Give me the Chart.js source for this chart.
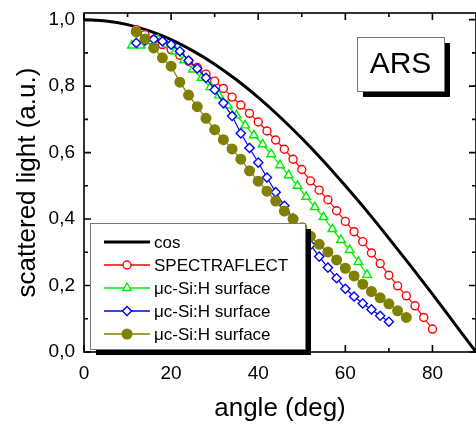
<!DOCTYPE html>
<html>
<head>
<meta charset="utf-8">
<script src="https://cdn.jsdelivr.net/npm/chart.js@4.4.0/dist/chart.umd.min.js"></script>
<style>
    html, body { margin: 0; padding: 0; background: #fff; }
    #wrap { width: 476px; height: 424px; }
</style>
</head>
<body>
<div id="wrap"><canvas id="arsChart" width="476" height="424"></canvas></div>
<script>
const FONT = "'Liberation Sans', Arial, Helvetica, sans-serif";

// --- axes ---
const xTicks = [0, 20, 40, 60, 80];
const xMinorTicks = [10, 30, 50, 70, 90];
const yTicks = [0, 0.2, 0.4, 0.6, 0.8, 1.0];
const yMinorTicks = [0.1, 0.3, 0.5, 0.7, 0.9];

const seriesNames = ['cos', 'SPECTRAFLECT', 'μc-Si:H surface', 'μc-Si:H surface', 'μc-Si:H surface'];

// --- cos reference curve ---
const cosAngles = [0, 5, 10, 15, 20, 25, 30, 35, 40, 45, 50, 55, 60, 65, 70, 75, 80, 85, 90];
const cosValues = [1.000, 0.996, 0.985, 0.966, 0.940, 0.906, 0.866, 0.819, 0.766, 0.707,
                   0.643, 0.574, 0.500, 0.423, 0.342, 0.259, 0.174, 0.087, 0.000];

// --- SPECTRAFLECT (red circles) ---
const redAngles = [12, 14, 16, 18, 20, 22, 24, 26, 28, 30, 32, 34, 36, 38, 40, 42, 44, 46,
                   48, 50, 52, 54, 56, 58, 60, 62, 64, 66, 68, 70, 72, 74, 76, 78, 80];
const redValues = [0.970, 0.955, 0.940, 0.925, 0.910, 0.893, 0.875, 0.856, 0.836, 0.815,
                   0.793, 0.767, 0.743, 0.718, 0.692, 0.665, 0.638, 0.610, 0.580, 0.549,
                   0.515, 0.487, 0.458, 0.425, 0.393, 0.362, 0.332, 0.298, 0.266, 0.231,
                   0.199, 0.169, 0.139, 0.104, 0.069];

// --- uc-Si:H surface (green triangles) ---
const greenAngles = [11, 13, 15, 17, 19, 21, 23, 25, 27, 29, 31, 33, 35, 37, 39, 41, 43, 45,
                     47, 49, 51, 53, 55, 57, 59, 61, 63, 65];
const greenValues = [0.922, 0.922, 0.935, 0.940, 0.925, 0.905, 0.878, 0.850, 0.825, 0.797,
                     0.772, 0.742, 0.712, 0.682, 0.652, 0.625, 0.595, 0.562, 0.532, 0.500,
                     0.467, 0.436, 0.406, 0.370, 0.337, 0.307, 0.271, 0.232];

// --- uc-Si:H surface (blue diamonds) ---
const blueAngles = [12, 14, 16, 18, 20, 22, 24, 26, 28, 30, 32, 34, 36, 38, 40, 42, 44, 46,
                    48, 50, 52, 54, 56, 58, 60, 62, 64, 66, 68, 70];
const blueValues = [0.930, 0.937, 0.941, 0.935, 0.925, 0.905, 0.877, 0.853, 0.825, 0.789,
                    0.749, 0.710, 0.658, 0.614, 0.570, 0.525, 0.481, 0.440, 0.402, 0.362,
                    0.322, 0.287, 0.254, 0.222, 0.190, 0.167, 0.146, 0.128, 0.109, 0.091];

// --- uc-Si:H surface (olive dots) ---
const oliveAngles = [12, 14, 16, 18, 20, 22, 24, 26, 28, 30, 32, 34, 36, 38, 40, 42, 44, 46,
                     48, 50, 52, 54, 56, 58, 60, 62, 64, 66, 68, 70, 72, 74];
const oliveValues = [0.963, 0.942, 0.915, 0.885, 0.860, 0.812, 0.773, 0.738, 0.703, 0.669,
                     0.639, 0.611, 0.580, 0.545, 0.514, 0.484, 0.454, 0.424, 0.400, 0.374,
                     0.348, 0.324, 0.301, 0.277, 0.252, 0.229, 0.204, 0.182, 0.163, 0.145,
                     0.124, 0.104];

function pairs(xs, ys) {
    return xs.map((x, i) => ({ x: x, y: ys[i] }));
}

function markerSeries(label, xs, ys, color, style, radius, fill, order) {
    return {
        label: label,
        data: pairs(xs, ys),
        borderColor: color,
        borderWidth: 1.2,
        pointStyle: style,
        pointRadius: radius,
        pointBorderWidth: 1.4,
        pointBorderColor: color,
        pointBackgroundColor: fill,
        tension: 0,
        order: order
    };
}

// frame with inward ticks on all four sides
const framePlugin = {
    id: 'frame',
    afterDatasetsDraw(chart) {
        const { ctx, chartArea: a, scales: { x, y } } = chart;
        ctx.save();
        ctx.strokeStyle = '#000';
        ctx.lineWidth = 1.6;
        ctx.strokeRect(a.left, a.top, a.right - a.left, a.bottom - a.top);

        ctx.beginPath();
        const xMark = (v, len) => {
            const px = x.getPixelForValue(v);
            ctx.moveTo(px, a.bottom); ctx.lineTo(px, a.bottom - len);
            ctx.moveTo(px, a.top); ctx.lineTo(px, a.top + len);
        };
        const yMark = (v, len) => {
            const py = y.getPixelForValue(v);
            ctx.moveTo(a.left, py); ctx.lineTo(a.left + len, py);
            ctx.moveTo(a.right, py); ctx.lineTo(a.right - len, py);
        };
        xTicks.forEach(v => xMark(v, 7));
        xMinorTicks.forEach(v => xMark(v, 4));
        yTicks.forEach(v => yMark(v, 7));
        yMinorTicks.forEach(v => yMark(v, 4));
        ctx.stroke();
        ctx.restore();
    }
};

// boxed legend and "ARS" label, both with a drop shadow
const boxesPlugin = {
    id: 'boxes',
    afterDatasetsDraw(chart) {
        const ctx = chart.ctx;
        const shadowBox = (l, t, w, h) => {
            ctx.fillStyle = '#000';
            ctx.fillRect(l + 6, t + 6, w, h);
            ctx.fillStyle = '#fff';
            ctx.fillRect(l, t, w, h);
            ctx.strokeStyle = '#777';
            ctx.lineWidth = 1;
            ctx.strokeRect(l + 0.5, t + 0.5, w, h);
        };
        ctx.save();

        shadowBox(357, 37, 87, 54);
        ctx.fillStyle = '#000';
        ctx.font = '30px ' + FONT;
        ctx.textAlign = 'center';
        ctx.textBaseline = 'middle';
        ctx.fillText('ARS', 400.5, 65);

        shadowBox(90, 223, 215, 126);
        ctx.font = '17px ' + FONT;
        ctx.textAlign = 'left';
        chart.data.datasets.forEach((ds, i) => {
            const rowY = 242 + i * 23;
            ctx.strokeStyle = ds.borderColor;
            ctx.lineWidth = i === 0 ? 3 : 1.6;
            ctx.beginPath();
            ctx.moveTo(104, rowY);
            ctx.lineTo(150, rowY);
            ctx.stroke();
            if (ds.pointRadius > 0) {
                ctx.fillStyle = ds.pointBackgroundColor;
                ctx.strokeStyle = ds.pointBorderColor;
                ctx.lineWidth = ds.pointBorderWidth;
                Chart.helpers.drawPoint(ctx, {
                    pointStyle: ds.pointStyle,
                    radius: ds.pointRadius,
                    rotation: 0,
                    borderWidth: ds.pointBorderWidth
                }, 127, rowY);
            }
            ctx.fillStyle = '#000';
            ctx.fillText(ds.label, 154, rowY + 1);
        });
        ctx.restore();
    }
};

const ctx = document.getElementById('arsChart').getContext('2d');
new Chart(ctx, {
    type: 'line',
    data: {
        datasets: [
            {
                label: seriesNames[0],
                data: pairs(cosAngles, cosValues),
                borderColor: '#000000',
                borderWidth: 3,
                pointRadius: 0,
                cubicInterpolationMode: 'monotone',
                order: 4
            },
            markerSeries(seriesNames[1], redAngles, redValues, '#ff0000', 'circle', 4, '#ffffff', 3),
            markerSeries(seriesNames[2], greenAngles, greenValues, '#00ee00', 'triangle', 5, '#ffffff', 2),
            markerSeries(seriesNames[3], blueAngles, blueValues, '#0000ff', 'rectRot', 4.6, '#ffffff', 1),
            markerSeries(seriesNames[4], oliveAngles, oliveValues, '#808000', 'circle', 4.8, '#808000', 0)
        ]
    },
    options: {
        responsive: false,
        animation: false,
        devicePixelRatio: 1,
        layout: {
            autoPadding: false,
            padding: { top: 13, right: -2, bottom: 0, left: 0 }
        },
        plugins: {
            legend: { display: false },
            tooltip: { enabled: false }
        },
        scales: {
            x: {
                type: 'linear',
                min: 0,
                max: 90,
                afterBuildTicks: (scale) => { scale.ticks = xTicks.map(v => ({ value: v })); },
                afterFit: (scale) => {
                    scale.height = 72;
                    scale.paddingLeft = 0;
                    scale.paddingRight = 0;
                },
                grid: { display: false, drawTicks: false },
                border: { display: false },
                ticks: {
                    color: '#000',
                    padding: 10,
                    maxRotation: 0,
                    font: { family: FONT, size: 19 }
                },
                title: {
                    display: true,
                    text: 'angle (deg)',
                    color: '#000',
                    padding: { top: 0, bottom: 0 },
                    font: { family: FONT, size: 26 }
                }
            },
            y: {
                type: 'linear',
                min: 0,
                max: 1.02,
                afterBuildTicks: (scale) => { scale.ticks = yTicks.map(v => ({ value: v })); },
                afterFit: (scale) => {
                    scale.width = 84;
                    scale.paddingTop = 0;
                    scale.paddingBottom = 0;
                },
                grid: { display: false, drawTicks: false },
                border: { display: false },
                ticks: {
                    color: '#000',
                    padding: 9,
                    font: { family: FONT, size: 19 },
                    callback: (value) => value.toFixed(1).replace('.', ',')
                },
                title: {
                    display: true,
                    text: 'scattered light (a.u.)',
                    color: '#000',
                    padding: { top: 12, bottom: 0 },
                    font: { family: FONT, size: 26 }
                }
            }
        }
    },
    plugins: [framePlugin, boxesPlugin]
});
</script>
</body>
</html>
